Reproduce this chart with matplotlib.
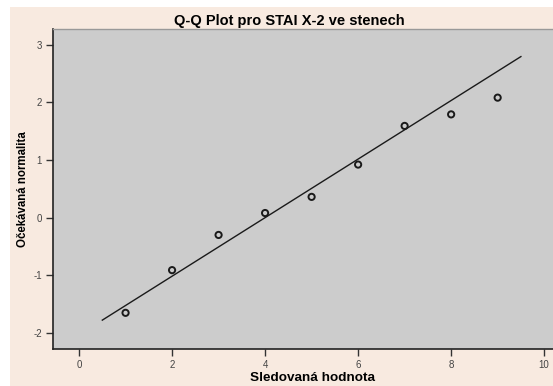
import matplotlib.pyplot as plt
from matplotlib.patches import Rectangle

# pozorovane hodnoty (steny) a ocekavana normalita
sledovana = [1, 2, 3, 4, 5, 6, 7, 8, 9]
ocekavana = [-1.65, -0.91, -0.30, 0.08, 0.36, 0.92, 1.59, 1.79, 2.08]

# referencni primka normalniho rozdeleni
prumer = 4.0
smer_odch = 1.97
primka_x = [0.5, 9.5]
primka_y = [(v - prumer) / smer_odch for v in primka_x]

plt.rcParams['font.family'] = ['Liberation Sans', 'DejaVu Sans']
plt.rcParams['axes.unicode_minus'] = False

W, H = 553, 386
fig = plt.figure(figsize=(W / 100, H / 100), dpi=100)
fig.patch.set_facecolor('white')
fig.patches.append(Rectangle((10 / W, 0), 1 - 10 / W, 1 - 7 / H,
                             transform=fig.transFigure, facecolor='#f8eae0',
                             edgecolor='none', zorder=-10))

ax = fig.add_axes([53 / W, (H - 349) / H, 500 / W, 320 / H])
ax.set_facecolor('#cccccc')

ax.plot(primka_x, primka_y, color='#1a1a1a', lw=1.0, zorder=2)
ax.scatter(sledovana, ocekavana, s=20, facecolors='none', edgecolors='#1a1a1a',
           linewidths=1.4, zorder=3)

ax.set_xlim(-0.56, 10.19)
ax.set_ylim(-2.277, 3.27)
ax.set_xticks([0, 2, 4, 6, 8, 10])
ax.set_yticks([-2, -1, 0, 1, 2, 3])
ax.tick_params(axis='both', direction='out', length=5, width=1, color='#333333',
               labelsize=7, labelcolor='#444444', pad=3)

for side in ['left', 'bottom']:
    ax.spines[side].set_color('#222222')
    ax.spines[side].set_linewidth(1.2)
ax.spines['top'].set_color('#999999')
ax.spines['top'].set_linewidth(1.0)
ax.spines['right'].set_visible(False)

fig.text(289 / W, 1 - 20.5 / H, 'Q-Q Plot pro STAI X-2 ve stenech',
         ha='center', va='center', fontsize=10.5, fontweight='bold')
fig.text(312 / W, 1 - 378 / H, 'Sledovaná hodnota',
         ha='center', va='center', fontsize=9.7, fontweight='bold')
fig.text(23 / W, 1 - 189.5 / H, 'Očekávaná normalita', rotation=90,
         ha='center', va='center', fontsize=8.3, fontweight='bold')

fig.savefig('out.png', dpi=100)
